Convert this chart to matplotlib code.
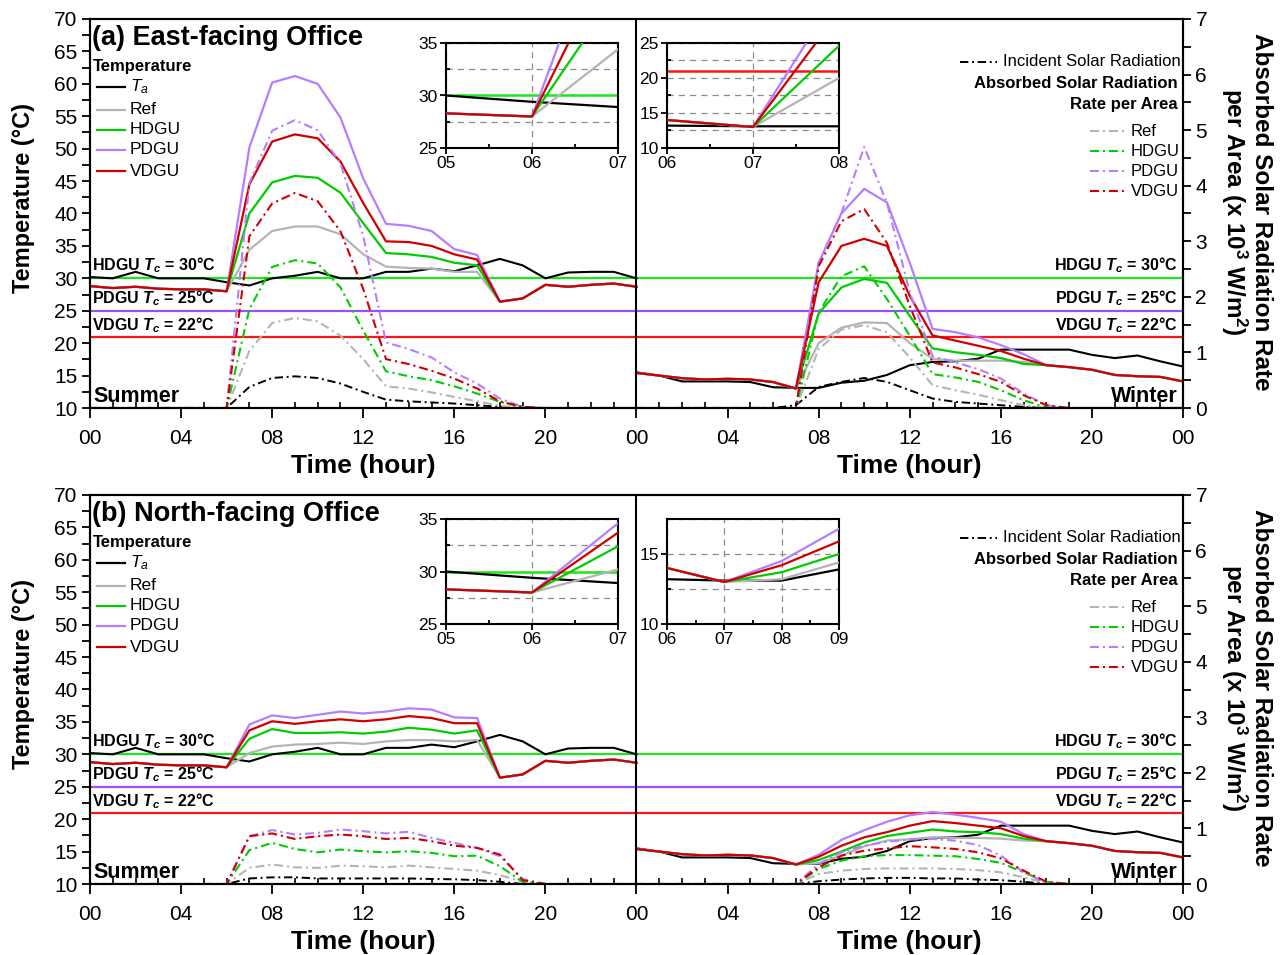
import numpy as np
import matplotlib
matplotlib.use("Agg")
import matplotlib.pyplot as plt
from matplotlib.ticker import MultipleLocator, FixedLocator, FixedFormatter

plt.rcParams['font.family'] = ['Liberation Sans', 'DejaVu Sans']
plt.rcParams['mathtext.fontset'] = 'custom'
plt.rcParams['mathtext.rm'] = 'Liberation Sans'
plt.rcParams['mathtext.it'] = 'Liberation Sans:italic'
plt.rcParams['mathtext.bf'] = 'Liberation Sans:bold'
plt.rcParams['mathtext.bfit'] = 'Liberation Sans:italic:bold'

hours = np.arange(25)

# ambient temperature (same weather for both offices)
ta_summer = [30.2, 30.0, 31.0, 30.0, 30.0, 30.0, 29.4, 28.9, 30.0, 30.4, 31.0, 30.0, 30.0,
             31.0, 31.0, 31.5, 31.1, 32.0, 33.0, 32.0, 30.0, 30.9, 31.0, 31.0, 30.0]
ta_winter = [15.5, 15.0, 14.1, 14.1, 14.1, 14.0, 13.2, 13.1, 13.1, 13.9, 14.2, 15.1, 16.6,
             17.1, 17.2, 17.6, 19.0, 19.0, 19.0, 19.0, 18.2, 17.7, 18.1, 17.2, 16.4]

# room temperature when no sun (all glazings coincide)
summer_am = [28.8, 28.5, 28.7, 28.4, 28.3, 28.3, 28.0]           # 00-06
summer_pm = [26.4, 26.9, 29.0, 28.7, 29.0, 29.2, 28.7]           # 18-24
winter_am = [15.4, 15.0, 14.6, 14.4, 14.5, 14.4, 14.0, 13.0]     # 00-07
winter_pm = [16.6, 16.3, 15.9, 15.1, 14.9, 14.8, 14.1]           # 18-24

# (a) east-facing office, room temperature, summer 07-17
east_sum_ref = [34.4, 37.3, 38.0, 38.0, 36.8, 33.7, 31.8, 31.6, 31.5, 31.0, 31.0]
east_sum_hdgu = [40.0, 44.8, 45.8, 45.5, 43.2, 38.5, 33.9, 33.7, 33.3, 32.4, 32.0]
east_sum_pdgu = [50.2, 60.2, 61.2, 60.0, 54.8, 45.4, 38.4, 38.1, 37.3, 34.5, 33.6]
east_sum_vdgu = [44.5, 51.1, 52.2, 51.6, 48.0, 41.6, 35.7, 35.6, 35.0, 33.7, 32.9]
# winter 08-17
east_win_ref = [20.0, 22.4, 23.2, 23.1, 20.0, 17.6, 17.3, 17.3, 17.3, 17.1]
east_win_hdgu = [24.6, 28.6, 29.9, 29.3, 24.2, 19.2, 18.6, 18.2, 17.7, 16.8]
east_win_pdgu = [32.4, 40.0, 43.8, 41.7, 32.4, 22.2, 21.7, 20.9, 19.7, 18.3]
east_win_vdgu = [29.4, 35.0, 36.1, 35.0, 27.3, 21.2, 20.4, 19.6, 18.8, 17.6]

# (a) absorbed / incident solar radiation (x1000 W/m2), summer from 06, winter from 07
east_sum_rad_inc = [0, 0.38, 0.54, 0.57, 0.54, 0.44, 0.29, 0.15, 0.12, 0.10, 0.08, 0.05, 0.02]
east_sum_rad_ref = [0, 1.03, 1.53, 1.62, 1.56, 1.30, 0.88, 0.39, 0.35, 0.28, 0.20, 0.12, 0.04]
east_sum_rad_hdgu = [0, 1.78, 2.54, 2.66, 2.60, 2.17, 1.39, 0.66, 0.57, 0.50, 0.39, 0.26, 0.11, 0.02]
east_sum_rad_pdgu = [0, 4.05, 4.99, 5.18, 5.00, 4.40, 3.09, 1.18, 1.06, 0.91, 0.64, 0.44, 0.17, 0.02]
east_sum_rad_vdgu = [0, 3.09, 3.68, 3.87, 3.72, 3.18, 2.14, 0.88, 0.79, 0.67, 0.53, 0.35, 0.12, 0.02]
east_win_rad_inc = [0.05, 0.38, 0.47, 0.54, 0.47, 0.32, 0.17, 0.11, 0.08, 0.05, 0.02]
east_win_rad_ref = [0, 1.06, 1.41, 1.49, 1.36, 0.91, 0.41, 0.32, 0.24, 0.14, 0.05]
east_win_rad_hdgu = [0, 1.72, 2.37, 2.55, 1.96, 1.30, 0.61, 0.55, 0.47, 0.32, 0.14, 0.01]
east_win_rad_pdgu = [0, 2.61, 3.51, 4.70, 3.69, 2.08, 0.93, 0.82, 0.70, 0.53, 0.26, 0.05]
east_win_rad_vdgu = [0, 2.55, 3.36, 3.58, 2.97, 1.84, 0.82, 0.73, 0.61, 0.47, 0.23, 0.05]

# (b) north-facing office
north_sum_ref = [30.2, 31.2, 31.5, 31.6, 31.8, 31.6, 32.0, 32.2, 32.2, 32.0, 32.2]
north_sum_hdgu = [32.4, 33.9, 33.3, 33.3, 33.4, 33.2, 33.5, 34.1, 33.8, 33.2, 33.7]
north_sum_pdgu = [34.6, 36.0, 35.6, 36.1, 36.6, 36.3, 36.6, 37.1, 36.9, 35.7, 35.6]
north_sum_vdgu = [33.7, 35.1, 34.7, 35.1, 35.4, 35.1, 35.4, 35.9, 35.6, 34.8, 34.8]
north_win_ref = [13.2, 14.4, 15.8, 16.7, 16.9, 17.2, 17.1, 17.1, 17.0, 16.7]
north_win_hdgu = [13.7, 15.0, 16.4, 17.4, 17.9, 18.4, 18.1, 18.0, 17.7, 17.0]
north_win_pdgu = [14.5, 16.8, 18.3, 19.6, 20.6, 21.1, 20.7, 20.2, 19.6, 17.7]
north_win_vdgu = [14.2, 15.9, 17.2, 18.0, 19.0, 19.7, 19.4, 19.0, 18.6, 17.4]

north_sum_rad_inc = [0, 0.10, 0.12, 0.12, 0.10, 0.10, 0.10, 0.10, 0.10, 0.09, 0.085, 0.07, 0.04]
north_sum_rad_ref = [0, 0.29, 0.35, 0.30, 0.29, 0.33, 0.32, 0.30, 0.33, 0.30, 0.27, 0.24, 0.16, 0.04]
north_sum_rad_hdgu = [0, 0.61, 0.74, 0.63, 0.57, 0.62, 0.59, 0.57, 0.59, 0.56, 0.50, 0.51, 0.32, 0.04]
north_sum_rad_pdgu = [0, 0.86, 0.97, 0.89, 0.92, 0.98, 0.95, 0.91, 0.94, 0.83, 0.74, 0.65, 0.50, 0.09]
north_sum_rad_vdgu = [0, 0.86, 0.91, 0.81, 0.86, 0.89, 0.86, 0.81, 0.83, 0.77, 0.69, 0.65, 0.53, 0.07]
north_win_rad_inc = [0, 0.05, 0.08, 0.10, 0.11, 0.11, 0.10, 0.10, 0.08, 0.07, 0.04]
north_win_rad_ref = [0, 0.18, 0.24, 0.27, 0.28, 0.28, 0.28, 0.27, 0.25, 0.21, 0.12, 0.02]
north_win_rad_hdgu = [0, 0.27, 0.42, 0.50, 0.52, 0.52, 0.51, 0.50, 0.45, 0.38, 0.21, 0.04]
north_win_rad_pdgu = [0, 0.36, 0.57, 0.69, 0.76, 0.80, 0.81, 0.78, 0.70, 0.51, 0.21, 0.02]
north_win_rad_vdgu = [0, 0.30, 0.51, 0.60, 0.64, 0.68, 0.66, 0.63, 0.57, 0.46, 0.24, 0.04]

models = ['Ref', 'HDGU', 'PDGU', 'VDGU']
colors = {'Ta': 'black', 'Ref': '#b4b4b4', 'HDGU': '#00cc00', 'PDGU': '#b57dff', 'VDGU': '#d00000'}
tc_lines = [(30, '#1ee61e', 'HDGU', 30), (25, '#9b50f5', 'PDGU', 25), (21, '#ff1414', 'VDGU', 22)]
DASHDOT = (0, (4.3, 1.9, 1.0, 1.9))


def summer(day):
    return summer_am + day + summer_pm


def winter(day):
    return winter_am + day + winter_pm


def rad(start, vals):
    out = np.zeros(25)
    out[start:start + len(vals)] = vals
    return out


panels = [
    dict(title='(a) East-facing Office',
         sum_t=dict(zip(models, [east_sum_ref, east_sum_hdgu, east_sum_pdgu, east_sum_vdgu])),
         win_t=dict(zip(models, [east_win_ref, east_win_hdgu, east_win_pdgu, east_win_vdgu])),
         sum_r=dict(zip(['Ta'] + models, [east_sum_rad_inc, east_sum_rad_ref, east_sum_rad_hdgu,
                                          east_sum_rad_pdgu, east_sum_rad_vdgu])),
         win_r=dict(zip(['Ta'] + models, [east_win_rad_inc, east_win_rad_ref, east_win_rad_hdgu,
                                          east_win_rad_pdgu, east_win_rad_vdgu])),
         inset_w=dict(xlim=(6, 8), ylim=(10, 25), yticks=[10, 15, 20, 25])),
    dict(title='(b) North-facing Office',
         sum_t=dict(zip(models, [north_sum_ref, north_sum_hdgu, north_sum_pdgu, north_sum_vdgu])),
         win_t=dict(zip(models, [north_win_ref, north_win_hdgu, north_win_pdgu, north_win_vdgu])),
         sum_r=dict(zip(['Ta'] + models, [north_sum_rad_inc, north_sum_rad_ref, north_sum_rad_hdgu,
                                          north_sum_rad_pdgu, north_sum_rad_vdgu])),
         win_r=dict(zip(['Ta'] + models, [north_win_rad_inc, north_win_rad_ref, north_win_rad_hdgu,
                                          north_win_rad_pdgu, north_win_rad_vdgu])),
         inset_w=dict(xlim=(6, 9), ylim=(10, 17.5), yticks=[10, 15])),
]

W, H = 1284, 955
fig = plt.figure(figsize=(W / 100, H / 100), dpi=100)


def fbox(x0, y0, x1, y1):
    return [x0 / W, 1 - y1 / H, (x1 - x0) / W, (y1 - y0) / H]


def fy(ypix):
    # pixel row (measured from the top of the upper panel, top spine at 19) -> axes fraction
    return (389 - (ypix - 19)) / 389


row_tops = [19, 495]
for p, top in zip(panels, row_tops):
    ax = fig.add_axes(fbox(90, top, 1183, top + 389))
    ax2 = ax.twinx()
    ax.set_xlim(0, 48)
    ax.set_ylim(10, 70)
    ax2.set_ylim(0, 7)

    for y, c, _, _ in tc_lines:
        ax.axhline(y, color=c, lw=1.6, zorder=1)

    sum_full = {m: summer(p['sum_t'][m]) for m in models}
    win_full = {m: winter(p['win_t'][m]) for m in models}
    sum_rad = {k: rad(6, v) for k, v in p['sum_r'].items()}
    win_rad = {k: rad(7, v) for k, v in p['win_r'].items()}

    for off, ta, temps, rads in [(0, ta_summer, sum_full, sum_rad), (24, ta_winter, win_full, win_rad)]:
        x = hours + off
        ax2.plot(x, rads['Ta'], color='black', lw=1.4, ls=DASHDOT)
        for m in models:
            ax2.plot(x, rads[m], color=colors[m], lw=1.5, ls=DASHDOT)
        ax.plot(x, ta, color='black', lw=1.5, zorder=3)
        for m in models:
            ax.plot(x, temps[m], color=colors[m], lw=1.6, zorder=3)

    ax.axvline(24, color='black', lw=1.5, zorder=4)

    # axes styling
    ax.set_xticks(np.arange(0, 49, 4))
    ax.set_xticklabels(['%02d' % (h % 24) for h in range(0, 49, 4)])
    ax.xaxis.set_minor_locator(MultipleLocator(1))
    ax.set_yticks(np.arange(10, 71, 5))
    ax.yaxis.set_minor_locator(MultipleLocator(2.5))
    ax2.set_yticks(np.arange(0, 8, 1))
    ax2.yaxis.set_minor_locator(MultipleLocator(0.5))
    ax.tick_params(axis='x', which='major', direction='out', length=7, width=1.3, labelsize=15, pad=8)
    ax.tick_params(axis='x', which='minor', direction='in', length=4, width=1.2)
    ax.tick_params(axis='y', which='both', direction='out', length=6, width=1.3, labelsize=15, pad=3)
    ax2.tick_params(axis='y', which='both', direction='out', length=6, width=1.3, labelsize=15, pad=3)
    for a in (ax, ax2):
        for s in a.spines.values():
            s.set_linewidth(1.5)

    ax.text(-0.0604, 0.54, 'Temperature (°C)', transform=ax.transAxes, rotation=90,
            ha='center', va='center', fontsize=17, fontweight='bold')
    ax.text(1.0575, 0.504, 'Absorbed Solar Radiation Rate\nper Area (x 10$^{\\mathbf{3}}$ W/m$^{\\mathbf{2}}$)',
            transform=ax.transAxes, rotation=270, ha='center', va='center', fontsize=17.5,
            fontweight='bold', linespacing=1.05)
    for xc in (0.2498, 0.750):
        ax.text(xc, -0.1495, 'Time (hour)', transform=ax.transAxes, ha='center', va='center',
                fontsize=19, fontweight='bold')

    ax.text(0.0018, fy(38), p['title'], transform=ax.transAxes, ha='left', va='center',
            fontsize=19.5, fontweight='bold')
    ax.text(0.003, fy(396), 'Summer', transform=ax.transAxes, ha='left', va='center',
            fontsize=15.5, fontweight='bold')
    ax.text(0.9954, fy(396), 'Winter', transform=ax.transAxes, ha='right', va='center',
            fontsize=15.5, fontweight='bold')
    for (yv, c, name, tc), ypix in zip(tc_lines, [265, 298, 325]):
        lab = name + ' $\\mathbfit{T}_\\mathbfit{c}$ = %d°C' % tc
        ax.text(0.0018, fy(ypix), lab, transform=ax.transAxes, ha='left', va='center',
                fontsize=11.5, fontweight='bold', zorder=6)
        ax.text(0.9954, fy(ypix), lab, transform=ax.transAxes, ha='right', va='center',
                fontsize=11.5, fontweight='bold', zorder=6)

    # temperature legend
    ax.text(0.003, fy(66), 'Temperature', transform=ax.transAxes, ha='left', va='center',
            fontsize=12, fontweight='bold')
    for name, ypix in zip(['Ta'] + models, [87, 110, 130, 150, 171]):
        yy = fy(ypix)
        ax.plot([7 / 1093, 35 / 1093], [yy, yy], transform=ax.transAxes, color=colors[name],
                lw=1.6, clip_on=False)
        ax.text(40 / 1093, yy, '$T_a$' if name == 'Ta' else name, transform=ax.transAxes,
                ha='left', va='center', fontsize=12.5)

    # radiation legend
    yy = fy(62)
    ax.plot([870 / 1093, 907 / 1093], [yy, yy], transform=ax.transAxes, color='black', lw=1.4,
            ls=DASHDOT)
    ax.text(913 / 1093, yy, 'Incident Solar Radiation', transform=ax.transAxes, ha='left',
            va='center', fontsize=12)
    ax.text(0.9954, fy(83), 'Absorbed Solar Radiation', transform=ax.transAxes, ha='right',
            va='center', fontsize=12, fontweight='bold')
    ax.text(0.9954, fy(104), 'Rate per Area', transform=ax.transAxes, ha='right',
            va='center', fontsize=12, fontweight='bold')
    for name, ypix in zip(models, [131, 151, 171, 191]):
        yy = fy(ypix)
        ax.plot([1000 / 1093, 1037 / 1093], [yy, yy], transform=ax.transAxes, color=colors[name],
                lw=1.5, ls=DASHDOT)
        ax.text(1041 / 1093, yy, name, transform=ax.transAxes, ha='left', va='center', fontsize=12)

    # insets
    off = top - 19
    insets = [
        (fbox(446, 43 + off, 618, 148 + off), sum_full, ta_summer,
         dict(xlim=(5, 7), ylim=(25, 35), yticks=[25, 30, 35])),
        (fbox(667, 43 + off, 839, 148 + off), win_full, ta_winter, p['inset_w']),
    ]
    for rect, temps, ta, lim in insets:
        ins = fig.add_axes(rect)
        ins.set_facecolor('white')
        for y, c, _, _ in tc_lines:
            if lim['ylim'][0] <= y < lim['ylim'][1]:
                ins.axhline(y, color=c, lw=1.8, zorder=2)
        ins.plot(hours, ta, color='black', lw=1.6, zorder=3)
        for m in models:
            ins.plot(hours, temps[m], color=colors[m], lw=1.6, zorder=3)
        ins.set_xlim(*lim['xlim'])
        ins.set_ylim(*lim['ylim'])
        xt = list(range(lim['xlim'][0], lim['xlim'][1] + 1))
        ins.xaxis.set_major_locator(FixedLocator(xt))
        ins.xaxis.set_major_formatter(FixedFormatter(['%02d' % v for v in xt]))
        ins.xaxis.set_minor_locator(MultipleLocator(0.5))
        ins.yaxis.set_major_locator(FixedLocator(lim['yticks']))
        ins.yaxis.set_minor_locator(MultipleLocator(2.5))
        ins.xaxis.grid(True, which='major', ls=(0, (5, 4)), color='#8c8c8c', lw=0.9)
        ins.yaxis.grid(True, which='both', ls=(0, (5, 4)), color='#8c8c8c', lw=0.9)
        ins.set_axisbelow(True)
        ins.tick_params(which='major', direction='out', length=4, width=1.3, labelsize=12.5, pad=2)
        ins.tick_params(which='minor', direction='in', length=3, width=1.3)
        for s in ins.spines.values():
            s.set_linewidth(1.5)

fig.savefig('out.png', dpi=100)
